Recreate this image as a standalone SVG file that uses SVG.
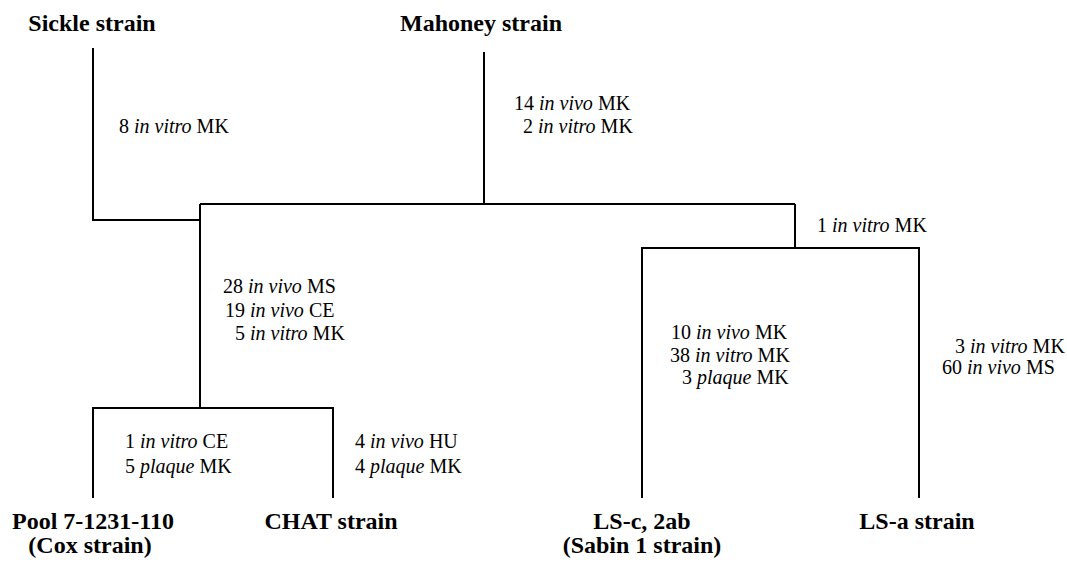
<svg xmlns="http://www.w3.org/2000/svg" width="1067" height="564" viewBox="0 0 1067 564">
<style>
.strain{font-family:"Liberation Serif","Times New Roman",serif;font-weight:bold;font-size:24px;fill:#000;text-anchor:middle}
.lbl{font-family:"Liberation Serif","Times New Roman",serif;font-size:20px;fill:#000}
.i{font-style:italic}
.br{fill:none;stroke:#000;stroke-width:2}
</style>
<rect width="1067" height="564" fill="#fff"/>
<g id="connectors">
<path class="br" d="M93,48 V220 H200"/>
<path class="br" d="M484,52 V204"/>
<path class="br" d="M200,204 H795"/>
<path class="br" d="M200,204 V408"/>
<path class="br" d="M93,498 V408 H333 V498"/>
<path class="br" d="M795,204 V248"/>
<path class="br" d="M642,498 V248 H919 V498"/>
</g>
<g id="branch-labels">
<text class="lbl" x="119" y="133">8 <tspan class="i">in vitro</tspan> MK</text>
<text class="lbl" x="514" y="110">14 <tspan class="i">in vivo</tspan> MK</text>
<text class="lbl" x="523" y="133">2 <tspan class="i">in vitro</tspan> MK</text>
<text class="lbl" x="817" y="232">1 <tspan class="i">in vitro</tspan> MK</text>
<text class="lbl" x="223" y="293">28 <tspan class="i">in vivo</tspan> MS</text>
<text class="lbl" x="225" y="317">19 <tspan class="i">in vivo</tspan> CE</text>
<text class="lbl" x="235" y="340">5 <tspan class="i">in vitro</tspan> MK</text>
<text class="lbl" x="671" y="339">10 <tspan class="i">in vivo</tspan> MK</text>
<text class="lbl" x="670" y="362">38 <tspan class="i">in vitro</tspan> MK</text>
<text class="lbl" x="682" y="384">3 <tspan class="i">plaque</tspan> MK</text>
<text class="lbl" x="955" y="353">3 <tspan class="i">in vitro</tspan> MK</text>
<text class="lbl" x="942" y="374">60 <tspan class="i">in vivo</tspan> MS</text>
<text class="lbl" x="125" y="448">1 <tspan class="i">in vitro</tspan> CE</text>
<text class="lbl" x="125" y="473">5 <tspan class="i">plaque</tspan> MK</text>
<text class="lbl" x="355" y="448">4 <tspan class="i">in vivo</tspan> HU</text>
<text class="lbl" x="355" y="473">4 <tspan class="i">plaque</tspan> MK</text>
</g>
<g id="sickle"><text class="strain" x="92" y="31">Sickle strain</text></g>
<g id="mahoney"><text class="strain" x="481" y="31">Mahoney strain</text></g>
<g id="pool"><text class="strain" x="93" y="529">Pool 7-1231-110</text><text class="strain" x="90" y="553">(Cox strain)</text></g>
<g id="chat"><text class="strain" x="331" y="529">CHAT strain</text></g>
<g id="lsc"><text class="strain" x="642" y="529">LS-c, 2ab</text><text class="strain" x="642" y="553">(Sabin 1 strain)</text></g>
<g id="lsa"><text class="strain" x="917" y="529">LS-a strain</text></g>
</svg>
